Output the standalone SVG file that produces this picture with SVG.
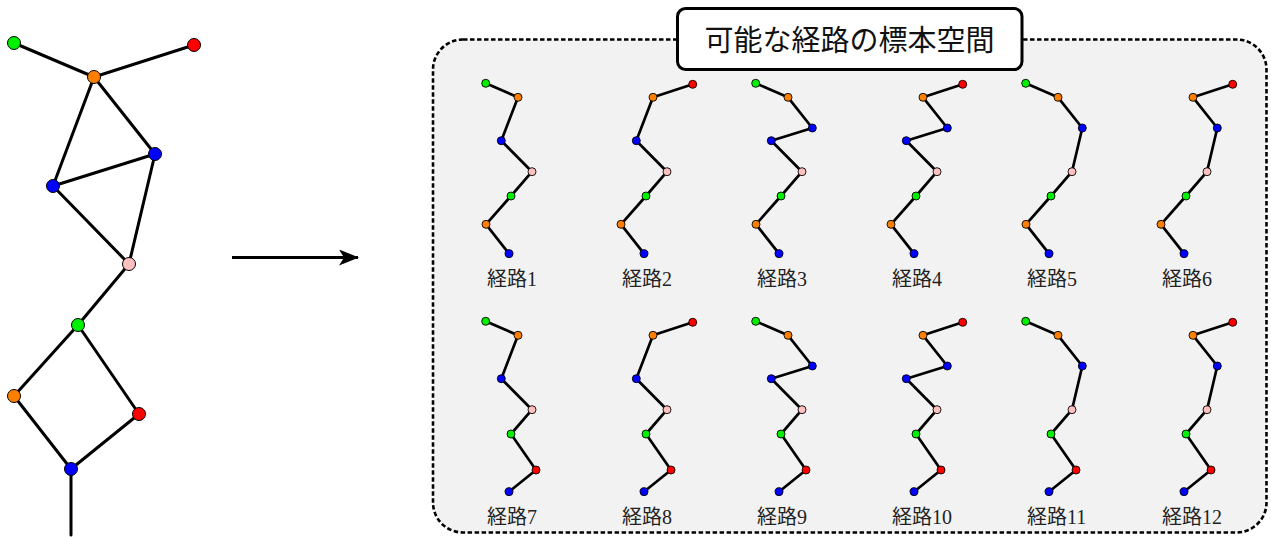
<svg xmlns="http://www.w3.org/2000/svg" width="1271" height="537" viewBox="0 0 1271 537">
  <style>
    .edge { stroke: #000; stroke-width: 3; fill: none; stroke-linecap: round; }
    .pe { stroke: #000; stroke-width: 2.7; fill: none; stroke-linejoin: round; stroke-linecap: round; }
    .big { stroke: #000; stroke-width: 1; }
    .sm { stroke: #000; stroke-width: 0.9; }
    .g { fill: #00f000; }
    .o { fill: #ff8000; }
    .b { fill: #0000ff; }
    .r { fill: #ff0000; }
    .p { fill: #ffc0c0; }
    .lbl { font-family: "Liberation Serif", "Noto Sans CJK JP", serif; font-size: 20px; fill: #222; }
    .title { font-family: "Noto Sans CJK JP", sans-serif; font-size: 29px; fill: #111; }
  </style>
  <defs>
    <marker id="stealth" viewBox="0 0 20 16" refX="19" refY="8" markerWidth="20" markerHeight="16" markerUnits="userSpaceOnUse" orient="auto">
      <path d="M0,0 L20,8 L0,16 L5,8 Z" fill="#000"/>
    </marker>
  </defs>

  <!-- source graph: edges -->
  <g id="graph-edges">
    <line class="edge" x1="14" y1="43" x2="94" y2="77"/>
    <line class="edge" x1="194" y1="45" x2="94" y2="77"/>
    <line class="edge" x1="94" y1="77" x2="53" y2="186"/>
    <line class="edge" x1="94" y1="77" x2="155" y2="154"/>
    <line class="edge" x1="155" y1="154" x2="53" y2="186"/>
    <line class="edge" x1="53" y1="186" x2="129" y2="264"/>
    <line class="edge" x1="155" y1="154" x2="129" y2="264"/>
    <line class="edge" x1="129" y1="264" x2="78" y2="325"/>
    <line class="edge" x1="78" y1="325" x2="14" y2="396"/>
    <line class="edge" x1="78" y1="325" x2="139" y2="414"/>
    <line class="edge" x1="14" y1="396" x2="71" y2="469"/>
    <line class="edge" x1="139" y1="414" x2="71" y2="469"/>
    <line class="edge" x1="71" y1="469" x2="71" y2="535"/>
  </g>
  <!-- source graph: vertices -->
  <g id="v-g1"><circle class="big g" cx="14" cy="43" r="6.5"/></g>
  <g id="v-r1"><circle class="big r" cx="194" cy="45" r="6.5"/></g>
  <g id="v-o1"><circle class="big o" cx="94" cy="77" r="6.5"/></g>
  <g id="v-b1"><circle class="big b" cx="155" cy="154" r="6.5"/></g>
  <g id="v-b2"><circle class="big b" cx="53" cy="186" r="6.5"/></g>
  <g id="v-p"><circle class="big p" cx="129" cy="264" r="6.5"/></g>
  <g id="v-g2"><circle class="big g" cx="78" cy="325" r="6.5"/></g>
  <g id="v-o2"><circle class="big o" cx="14" cy="396" r="6.5"/></g>
  <g id="v-r2"><circle class="big r" cx="139" cy="414" r="6.5"/></g>
  <g id="v-b3"><circle class="big b" cx="71" cy="469" r="6.5"/></g>

  <!-- arrow to the sample space -->
  <g id="arrow">
    <line x1="232" y1="257.5" x2="358" y2="257.5" stroke="#000" stroke-width="3" marker-end="url(#stealth)"/>
  </g>

  <!-- sample space frame -->
  <g id="frame">
    <rect x="433" y="39.5" width="833.5" height="493" rx="30" ry="30" fill="#f2f2f2" stroke="#000" stroke-width="2.6" stroke-dasharray="4.5 2.5"/>
  </g>
  <g id="title">
    <rect x="677.5" y="8.5" width="344.5" height="61" rx="8" ry="8" fill="#fff" stroke="#000" stroke-width="3"/>
    <text class="title" x="849.5" y="51" text-anchor="middle">可能な経路の標本空間</text>
  </g>

  <!-- paths, top row: Gt(485.7,83.3) Rt(557.7,84.3) O1(518,97.3) B1(542.3,128) B2(501.3,140.7) P(532,171.7) G2(511,196) O2(486,224.3) B3(509,253.7) -->
  <g id="path1">
    <polyline class="pe" points="485.7,83.3 518,97.3 501.3,140.7 532,171.7 511,196 486,224.3 509,253.7"/>
    <circle class="sm g" cx="485.7" cy="83.3" r="4"/><circle class="sm o" cx="518" cy="97.3" r="4"/>
    <circle class="sm b" cx="501.3" cy="140.7" r="4"/><circle class="sm p" cx="532" cy="171.7" r="4"/>
    <circle class="sm g" cx="511" cy="196" r="4"/><circle class="sm o" cx="486" cy="224.3" r="4"/>
    <circle class="sm b" cx="509" cy="253.7" r="4"/>
    <text class="lbl" x="487" y="286">経路1</text>
  </g>
  <g id="path2" transform="translate(135,0)">
    <polyline class="pe" points="557.7,84.3 518,97.3 501.3,140.7 532,171.7 511,196 486,224.3 509,253.7"/>
    <circle class="sm r" cx="557.7" cy="84.3" r="4"/><circle class="sm o" cx="518" cy="97.3" r="4"/>
    <circle class="sm b" cx="501.3" cy="140.7" r="4"/><circle class="sm p" cx="532" cy="171.7" r="4"/>
    <circle class="sm g" cx="511" cy="196" r="4"/><circle class="sm o" cx="486" cy="224.3" r="4"/>
    <circle class="sm b" cx="509" cy="253.7" r="4"/>
    <text class="lbl" x="487" y="286">経路2</text>
  </g>
  <g id="path3" transform="translate(270,0)">
    <polyline class="pe" points="485.7,83.3 518,97.3 542.3,128 501.3,140.7 532,171.7 511,196 486,224.3 509,253.7"/>
    <circle class="sm g" cx="485.7" cy="83.3" r="4"/><circle class="sm o" cx="518" cy="97.3" r="4"/>
    <circle class="sm b" cx="542.3" cy="128" r="4"/>
    <circle class="sm b" cx="501.3" cy="140.7" r="4"/><circle class="sm p" cx="532" cy="171.7" r="4"/>
    <circle class="sm g" cx="511" cy="196" r="4"/><circle class="sm o" cx="486" cy="224.3" r="4"/>
    <circle class="sm b" cx="509" cy="253.7" r="4"/>
    <text class="lbl" x="487" y="286">経路3</text>
  </g>
  <g id="path4" transform="translate(405,0)">
    <polyline class="pe" points="557.7,84.3 518,97.3 542.3,128 501.3,140.7 532,171.7 511,196 486,224.3 509,253.7"/>
    <circle class="sm r" cx="557.7" cy="84.3" r="4"/><circle class="sm o" cx="518" cy="97.3" r="4"/>
    <circle class="sm b" cx="542.3" cy="128" r="4"/>
    <circle class="sm b" cx="501.3" cy="140.7" r="4"/><circle class="sm p" cx="532" cy="171.7" r="4"/>
    <circle class="sm g" cx="511" cy="196" r="4"/><circle class="sm o" cx="486" cy="224.3" r="4"/>
    <circle class="sm b" cx="509" cy="253.7" r="4"/>
    <text class="lbl" x="487" y="286">経路4</text>
  </g>
  <g id="path5" transform="translate(540,0)">
    <polyline class="pe" points="485.7,83.3 518,97.3 542.3,128 532,171.7 511,196 486,224.3 509,253.7"/>
    <circle class="sm g" cx="485.7" cy="83.3" r="4"/><circle class="sm o" cx="518" cy="97.3" r="4"/>
    <circle class="sm b" cx="542.3" cy="128" r="4"/><circle class="sm p" cx="532" cy="171.7" r="4"/>
    <circle class="sm g" cx="511" cy="196" r="4"/><circle class="sm o" cx="486" cy="224.3" r="4"/>
    <circle class="sm b" cx="509" cy="253.7" r="4"/>
    <text class="lbl" x="487" y="286">経路5</text>
  </g>
  <g id="path6" transform="translate(675,0)">
    <polyline class="pe" points="557.7,84.3 518,97.3 542.3,128 532,171.7 511,196 486,224.3 509,253.7"/>
    <circle class="sm r" cx="557.7" cy="84.3" r="4"/><circle class="sm o" cx="518" cy="97.3" r="4"/>
    <circle class="sm b" cx="542.3" cy="128" r="4"/><circle class="sm p" cx="532" cy="171.7" r="4"/>
    <circle class="sm g" cx="511" cy="196" r="4"/><circle class="sm o" cx="486" cy="224.3" r="4"/>
    <circle class="sm b" cx="509" cy="253.7" r="4"/>
    <text class="lbl" x="487" y="286">経路6</text>
  </g>

  <!-- paths, bottom row: ends through R2(536,232) instead of O2 -->
  <g id="path7" transform="translate(0,238)">
    <polyline class="pe" points="485.7,83.3 518,97.3 501.3,140.7 532,171.7 511,196 536,232 509,253.7"/>
    <circle class="sm g" cx="485.7" cy="83.3" r="4"/><circle class="sm o" cx="518" cy="97.3" r="4"/>
    <circle class="sm b" cx="501.3" cy="140.7" r="4"/><circle class="sm p" cx="532" cy="171.7" r="4"/>
    <circle class="sm g" cx="511" cy="196" r="4"/><circle class="sm r" cx="536" cy="232" r="4"/>
    <circle class="sm b" cx="509" cy="253.7" r="4"/>
    <text class="lbl" x="487" y="286">経路7</text>
  </g>
  <g id="path8" transform="translate(135,238)">
    <polyline class="pe" points="557.7,84.3 518,97.3 501.3,140.7 532,171.7 511,196 536,232 509,253.7"/>
    <circle class="sm r" cx="557.7" cy="84.3" r="4"/><circle class="sm o" cx="518" cy="97.3" r="4"/>
    <circle class="sm b" cx="501.3" cy="140.7" r="4"/><circle class="sm p" cx="532" cy="171.7" r="4"/>
    <circle class="sm g" cx="511" cy="196" r="4"/><circle class="sm r" cx="536" cy="232" r="4"/>
    <circle class="sm b" cx="509" cy="253.7" r="4"/>
    <text class="lbl" x="487" y="286">経路8</text>
  </g>
  <g id="path9" transform="translate(270,238)">
    <polyline class="pe" points="485.7,83.3 518,97.3 542.3,128 501.3,140.7 532,171.7 511,196 536,232 509,253.7"/>
    <circle class="sm g" cx="485.7" cy="83.3" r="4"/><circle class="sm o" cx="518" cy="97.3" r="4"/>
    <circle class="sm b" cx="542.3" cy="128" r="4"/>
    <circle class="sm b" cx="501.3" cy="140.7" r="4"/><circle class="sm p" cx="532" cy="171.7" r="4"/>
    <circle class="sm g" cx="511" cy="196" r="4"/><circle class="sm r" cx="536" cy="232" r="4"/>
    <circle class="sm b" cx="509" cy="253.7" r="4"/>
    <text class="lbl" x="487" y="286">経路9</text>
  </g>
  <g id="path10" transform="translate(405,238)">
    <polyline class="pe" points="557.7,84.3 518,97.3 542.3,128 501.3,140.7 532,171.7 511,196 536,232 509,253.7"/>
    <circle class="sm r" cx="557.7" cy="84.3" r="4"/><circle class="sm o" cx="518" cy="97.3" r="4"/>
    <circle class="sm b" cx="542.3" cy="128" r="4"/>
    <circle class="sm b" cx="501.3" cy="140.7" r="4"/><circle class="sm p" cx="532" cy="171.7" r="4"/>
    <circle class="sm g" cx="511" cy="196" r="4"/><circle class="sm r" cx="536" cy="232" r="4"/>
    <circle class="sm b" cx="509" cy="253.7" r="4"/>
    <text class="lbl" x="487" y="286">経路10</text>
  </g>
  <g id="path11" transform="translate(540,238)">
    <polyline class="pe" points="485.7,83.3 518,97.3 542.3,128 532,171.7 511,196 536,232 509,253.7"/>
    <circle class="sm g" cx="485.7" cy="83.3" r="4"/><circle class="sm o" cx="518" cy="97.3" r="4"/>
    <circle class="sm b" cx="542.3" cy="128" r="4"/><circle class="sm p" cx="532" cy="171.7" r="4"/>
    <circle class="sm g" cx="511" cy="196" r="4"/><circle class="sm r" cx="536" cy="232" r="4"/>
    <circle class="sm b" cx="509" cy="253.7" r="4"/>
    <text class="lbl" x="487" y="286">経路11</text>
  </g>
  <g id="path12" transform="translate(675,238)">
    <polyline class="pe" points="557.7,84.3 518,97.3 542.3,128 532,171.7 511,196 536,232 509,253.7"/>
    <circle class="sm r" cx="557.7" cy="84.3" r="4"/><circle class="sm o" cx="518" cy="97.3" r="4"/>
    <circle class="sm b" cx="542.3" cy="128" r="4"/><circle class="sm p" cx="532" cy="171.7" r="4"/>
    <circle class="sm g" cx="511" cy="196" r="4"/><circle class="sm r" cx="536" cy="232" r="4"/>
    <circle class="sm b" cx="509" cy="253.7" r="4"/>
    <text class="lbl" x="487" y="286">経路12</text>
  </g>
</svg>
